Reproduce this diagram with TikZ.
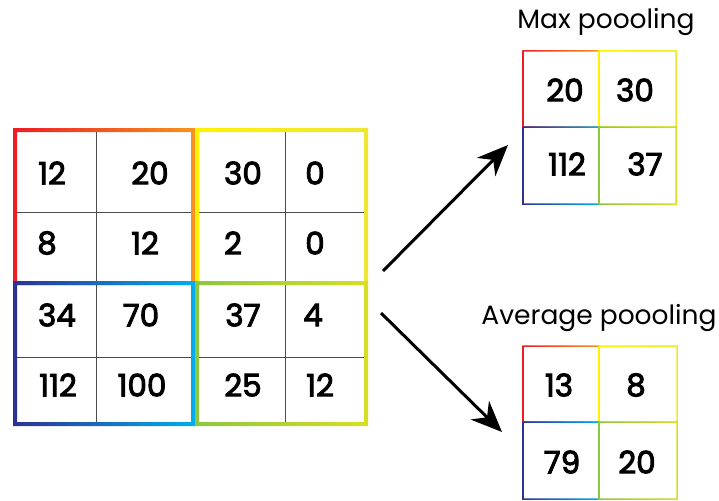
\documentclass[tikz,border=0pt]{standalone}
\usepackage{fontspec}
\setmainfont{Poppins}
\newfontfamily\numfont{Poppins}[FakeBold=3]
\usetikzlibrary{arrows.meta}

\definecolor{pred}{RGB}{237,28,36}
\definecolor{porange}{RGB}{247,148,29}
\definecolor{pyellow}{RGB}{255,242,0}
\definecolor{pyellowb}{RGB}{238,230,50}
\definecolor{pnavy}{RGB}{46,49,146}
\definecolor{pcyan}{RGB}{0,174,239}
\definecolor{pgreen}{RGB}{141,198,63}
\definecolor{plime}{RGB}{215,223,35}

\begin{document}
\begin{tikzpicture}[x=1pt,y=-1pt,>={Stealth[length=31pt,width=26pt,inset=10pt]}]
 \tikzstyle{num} = [font=\numfont\fontsize{31}{33}\selectfont,inner sep=0]
 \tikzstyle{title} = [font=\fontsize{26.5}{28}\selectfont,inner sep=0]
 \tikzstyle{gridline} = [draw=black!70,line width=1pt]
 \tikzstyle{flow} = [->,line width=3pt]
 % frame with a left-to-right colour run: x1,y1,x2,y2,width,left,right
 \newcommand{\gframe}[7]{\shade[left color=#6,right color=#7,even odd rule]
   ({#1-#5/2},{#2-#5/2}) rectangle ({#3+#5/2},{#4+#5/2})
   ({#1+#5/2},{#2+#5/2}) rectangle ({#3-#5/2},{#4-#5/2});}

 \useasboundingbox (0,0) rectangle (719,500);

% Input feature map: thin cell lines
 \draw[gridline] (96,130) -- (96,424);
 \draw[gridline] (285,130) -- (285,424);
 \draw[gridline] (15,212) -- (366,212);
 \draw[gridline] (15,357) -- (366,357);
% 2x2 windows
 \gframe{15}{130}{193}{283}{4}{pred}{porange}
 \gframe{197}{130}{366}{283}{4}{pyellow}{pyellowb}
 \gframe{15}{283}{193}{424}{4}{pnavy}{pcyan}
 \gframe{197}{283}{366}{424}{4}{pgreen}{plime}

% Input values
 \node[num] (a11) at (52,173) {12};  \node[num] (a12) at (150,173) {20};
 \node[num] (a13) at (243,173) {30}; \node[num] (a14) at (315,173) {0};
 \node[num] (a21) at (47,243) {8};   \node[num] (a22) at (145,243) {12};
 \node[num] (a23) at (233,243) {2};  \node[num] (a24) at (315,243) {0};
 \node[num] (a31) at (57,315) {34};  \node[num] (a32) at (141,315) {70};
 \node[num] (a33) at (243,315) {37}; \node[num] (a34) at (313,315) {4};
 \node[num] (a41) at (58,385) {112}; \node[num] (a42) at (142,385) {100};
 \node[num] (a43) at (243,385) {25}; \node[num] (a44) at (320,385) {12};

% Max pooling output
 \node[title] (maxt) at (606,22) {Max poooling};
 \gframe{523}{51}{599}{127}{1.5}{pred}{porange}
 \gframe{599}{51}{676}{127}{1.5}{pyellow}{pyellowb}
 \gframe{523}{127}{599}{204}{1.5}{pnavy}{pcyan}
 \gframe{599}{127}{676}{204}{1.5}{pgreen}{plime}
 \node[num] (m11) at (565,90) {20};  \node[num] (m12) at (635,90) {30};
 \node[num] (m21) at (567,164) {112}; \node[num] (m22) at (645,164) {37};

% Average pooling output
 \node[title] (avgt) at (599,318) {Average poooling};
 \gframe{523}{346}{599}{422}{1.5}{pred}{porange}
 \gframe{599}{346}{677}{422}{1.5}{pyellow}{pyellowb}
 \gframe{523}{422}{599}{499}{1.5}{pnavy}{pcyan}
 \gframe{599}{422}{677}{499}{1.5}{pgreen}{plime}
 \node[num] (v11) at (559,385) {13};  \node[num] (v12) at (636,385) {8};
 \node[num] (v21) at (562,462) {79};  \node[num] (v22) at (637,462) {20};

% Arrows
 \coordinate (up0) at (383,271); \coordinate (up1) at (508,145);
 \coordinate (dn0) at (381,313); \coordinate (dn1) at (502,432);
 \draw[flow] (up0) -- (up1);
 \draw[flow] (dn0) -- (dn1);

\end{tikzpicture}
\end{document}
